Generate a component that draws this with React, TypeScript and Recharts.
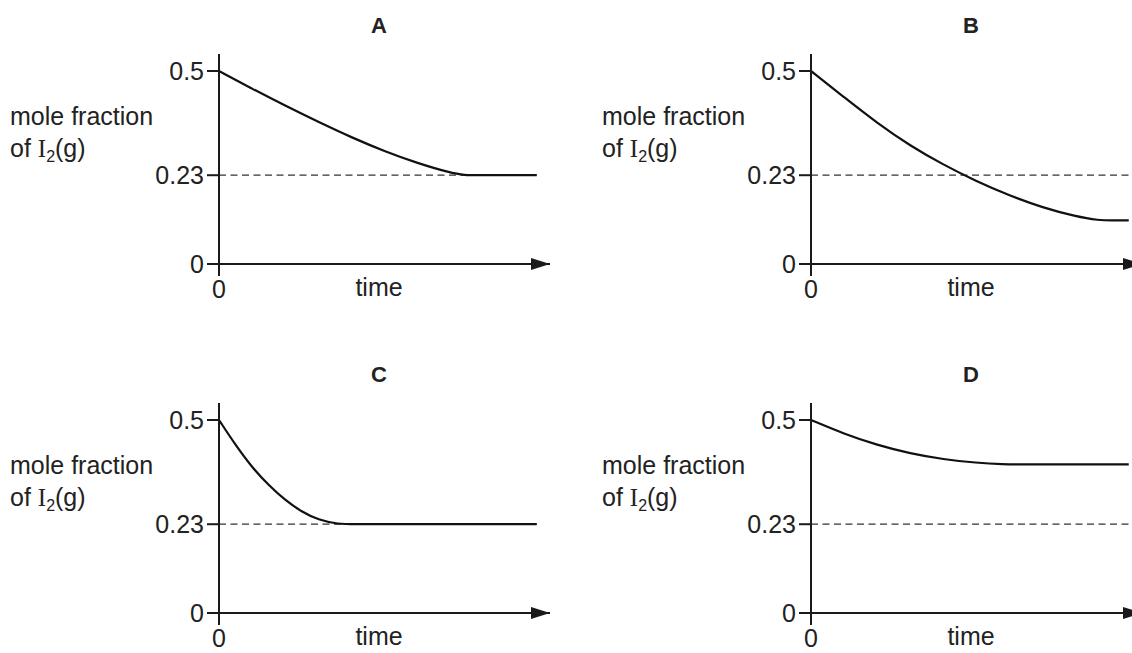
import React from 'react';
import { LineChart, Line, XAxis, YAxis, ReferenceLine } from 'recharts';

// ---- data ----
const panelTitles = ['A', 'B', 'C', 'D'];

const timeA = [0, 1, 2, 3, 4, 5, 6, 7, 7.4, 7.9, 8.5, 9.6];
const fractionA = [0.5, 0.454, 0.41, 0.368, 0.328, 0.292, 0.261, 0.236, 0.23, 0.23, 0.23, 0.23];

const timeB = [0, 1, 2, 3, 4, 5, 6, 7, 8, 8.7, 9.1, 9.6];
const fractionB = [0.5, 0.432, 0.365, 0.306, 0.257, 0.214, 0.177, 0.146, 0.123, 0.113, 0.113, 0.113];

const timeC = [0, 0.5, 1, 1.5, 2, 2.5, 3, 3.6, 4.1, 5, 9.6];
const fractionC = [0.5, 0.435, 0.377, 0.331, 0.292, 0.262, 0.241, 0.23, 0.23, 0.23, 0.23];

const timeD = [0, 1, 2, 3, 4, 5, 5.8, 6.4, 7.5, 9.6];
const fractionD = [0.5, 0.464, 0.435, 0.413, 0.398, 0.389, 0.385, 0.385, 0.385, 0.385];

const yTicks = [0, 0.23, 0.5];
const xTicks = [0];
const equilibriumFraction = 0.23;
const dashedEnd = 9.6;
const xDomain = [0, 10];
const yDomain = [0, 0.544];

const yLabelLine1 = 'mole fraction';
const yLabelPrefix = 'of ';
const yLabelElement = 'I';
const yLabelSubscript = '2';
const yLabelSuffix = '(g)';
const xLabel = 'time';

const FONT = '"Liberation Sans", Arial, Helvetica, sans-serif';
const SERIF = '"Liberation Serif", "Times New Roman", serif';
const INK = '#1a1a1a';
const TEXT = '#222';
const FS = 25;

const CHART_W = 560;
const CHART_H = 320;

function build(times: number[], values: number[]) {
  return times.map((t, i) => ({ t, v: values[i] }));
}

const panelData = [
  build(timeA, fractionA),
  build(timeB, fractionB),
  build(timeC, fractionC),
  build(timeD, fractionD),
];

const panelPos = [
  { left: 0, top: 0 },
  { left: 592, top: 0 },
  { left: 0, top: 349 },
  { left: 592, top: 349 },
];

function PanelText({ title }: { title: string }) {
  return (
    <g fontFamily={FONT} fill={TEXT}>
      <text x={379} y={33} fontSize={22} fontWeight="bold" textAnchor="middle">
        {title}
      </text>
      <text x={10} y={125} fontSize={FS}>
        {yLabelLine1}
      </text>
      <text x={10} y={157} fontSize={FS}>
        {yLabelPrefix}
        <tspan fontFamily={SERIF}>{yLabelElement}</tspan>
        <tspan fontSize={16} dy={5}>{yLabelSubscript}</tspan>
        <tspan dy={-5}>{yLabelSuffix}</tspan>
      </text>
      <text x={379} y={296} fontSize={FS} textAnchor="middle">
        {xLabel}
      </text>
    </g>
  );
}

function Panel({ idx }: { idx: number }) {
  const markerId = `arrowHead${idx}`;
  const pos = panelPos[idx];
  return (
    <div style={{ position: 'absolute', left: pos.left, top: pos.top }}>
      <LineChart
        width={CHART_W}
        height={CHART_H}
        data={panelData[idx]}
        margin={{ top: 54, right: 10, bottom: 16, left: 159 }}
      >
        <defs>
          <marker
            id={markerId}
            markerUnits="userSpaceOnUse"
            markerWidth={20}
            markerHeight={13}
            refX={19}
            refY={6.5}
            orient="auto"
          >
            <path d="M0,0.5 L19,6.5 L0,12.5 Z" fill={INK} />
          </marker>
        </defs>
        <XAxis
          dataKey="t"
          type="number"
          domain={xDomain}
          ticks={xTicks}
          height={40}
          tickSize={12}
          tickMargin={4}
          axisLine={{ stroke: INK, strokeWidth: 2, markerEnd: `url(#${markerId})` }}
          tickLine={{ stroke: INK, strokeWidth: 2 }}
          tick={{ fill: TEXT, fontSize: FS, fontFamily: FONT }}
          allowDataOverflow
        />
        <YAxis
          type="number"
          domain={yDomain}
          ticks={yTicks}
          width={60}
          tickSize={12}
          tickMargin={3}
          axisLine={{ stroke: INK, strokeWidth: 2 }}
          tickLine={{ stroke: INK, strokeWidth: 2 }}
          tick={{ fill: TEXT, fontSize: FS, fontFamily: FONT }}
          interval={0}
          allowDataOverflow
          label={() => <PanelText title={panelTitles[idx]} />}
        />
        <ReferenceLine
          segment={[
            { x: 0, y: equilibriumFraction },
            { x: dashedEnd, y: equilibriumFraction },
          ]}
          stroke="#333"
          strokeWidth={1.3}
          strokeDasharray="7 4.5"
        />
        <Line
          type="basis"
          dataKey="v"
          stroke="#111"
          strokeWidth={2.2}
          dot={false}
          activeDot={false}
          isAnimationActive={false}
        />
      </LineChart>
    </div>
  );
}

export default function App() {
  return (
    <div
      style={{
        position: 'absolute',
        left: 0,
        top: 0,
        width: 1132,
        height: 653,
        overflow: 'hidden',
        background: '#fff',
        fontFamily: FONT,
      }}
    >
      {panelTitles.map((_, i) => (
        <Panel key={i} idx={i} />
      ))}
    </div>
  );
}
